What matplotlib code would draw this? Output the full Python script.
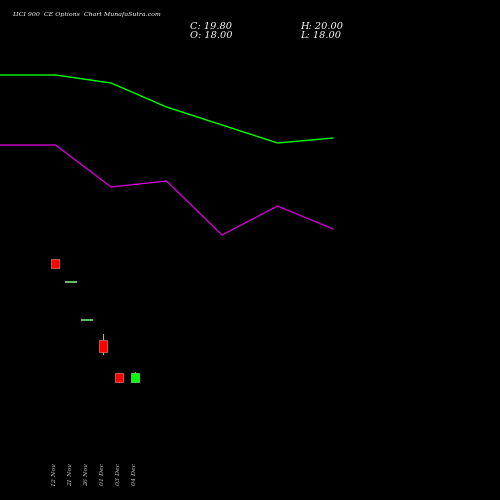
import matplotlib
matplotlib.use("Agg")
import matplotlib.pyplot as plt

dates = ["12 Nov", "21 Nov", "26 Nov", "01 Dec", "03 Dec", "04 Dec"]
opens = [42.6, 38.0, 30.4, 26.4, 19.8, 18.0]
closes = [40.8, 38.0, 30.4, 24.0, 18.0, 19.8]
highs = [42.6, 38.0, 30.4, 27.6, 19.8, 20.0]
lows = [40.8, 38.0, 30.4, 23.6, 18.0, 18.0]
green_line = [79.4, 79.4, 77.8, 73.0, 69.4, 65.8, 66.8]
magenta_line = [65.4, 65.4, 57.0, 58.2, 47.4, 53.2, 48.6]

fig = plt.figure(figsize=(5, 5), dpi=100, facecolor="black")
ax = fig.add_axes([0, 0, 1, 1], facecolor="black")
ax.set_ylim(-5.6, 94.4)
ax.set_xlim(-55 / 16, (500 - 55) / 16)
for i, (o, c, h, l) in enumerate(zip(opens, closes, highs, lows)):
    ax.text(i, 1.8, dates[i], color="#cccccc", fontsize=4.5, rotation=90,
            ha="center", va="top", family="DejaVu Serif", style="italic")
    if o == c:
        ax.plot([i - 0.3, i + 0.3], [o, o], color="#66bb66", lw=1.5)
        continue
    col = "#00ff00" if c > o else "#ff0000"
    ax.plot([i, i], [l, h], color="#aaaaaa", lw=0.8, zorder=1)
    ax.bar(i, abs(c - o), bottom=min(o, c), width=0.56, color=col,
           edgecolor="#cc6666" if c < o else "#66cc66", lw=0.6, zorder=2)
ax.axis("off")

ax2 = fig.add_axes([0, 0, 1, 1], facecolor="none")
ax2.set_ylim(-5.6, 94.4)
ax2.set_xlim(0, 500 / 55.5)
xs = list(range(len(green_line)))
ax2.plot(xs, green_line, color="#00ff00", lw=1)
ax2.plot(xs, magenta_line, color="#cc00cc", lw=1)
ax2.axis("off")

fig.text(0.024, 0.968, "LICI 900  CE Options  Chart MunafaSutra.com", color="white",
         fontsize=4.5, family="DejaVu Serif", style="italic")
fig.text(0.38, 0.942, "C: 19.80", color="white", fontsize=7, family="DejaVu Serif", style="italic")
fig.text(0.38, 0.925, "O: 18.00", color="white", fontsize=7, family="DejaVu Serif", style="italic")
fig.text(0.60, 0.942, "H: 20.00", color="white", fontsize=7, family="DejaVu Serif", style="italic")
fig.text(0.60, 0.925, "L: 18.00", color="white", fontsize=7, family="DejaVu Serif", style="italic")
fig.savefig("out.png", facecolor="black")
